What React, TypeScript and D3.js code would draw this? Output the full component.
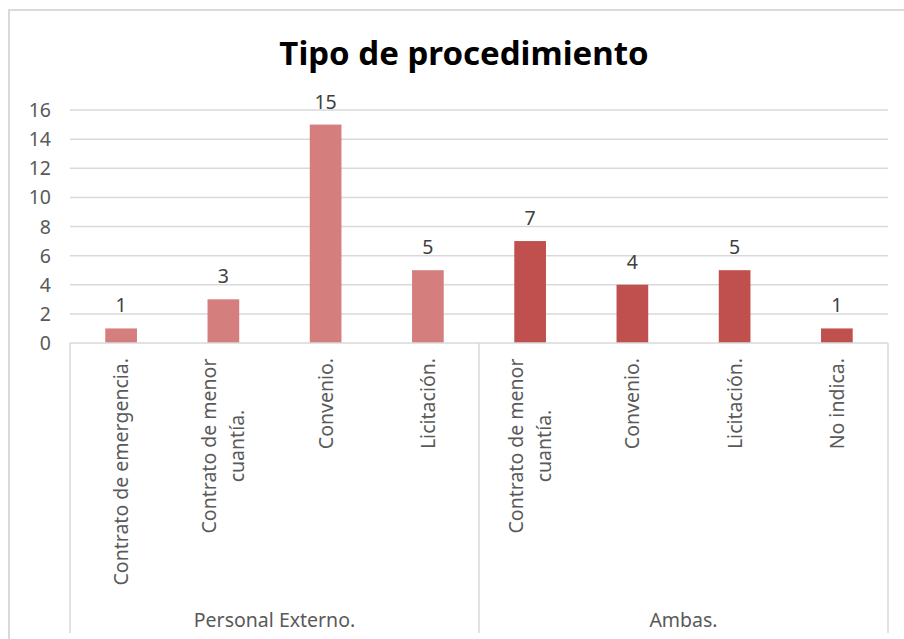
import React from "react";
import * as d3 from "d3";

const groups = ["Personal Externo.", "Ambas."];
const categories = [
  ["Contrato de emergencia."],
  ["Contrato de menor", "cuantía."],
  ["Convenio."],
  ["Licitación."],
  ["Contrato de menor", "cuantía."],
  ["Convenio."],
  ["Licitación."],
  ["No indica."],
];
const categoryGroup = [0, 0, 0, 0, 1, 1, 1, 1];
const values = [1, 3, 15, 5, 7, 4, 5, 1];
const groupColors = ["#d47f7e", "#c0504d"];
const yTicks = [0, 2, 4, 6, 8, 10, 12, 14, 16];

const W = 904;
const H = 639;
const left = 70;
const right = 888;
const top = 110;
const bottom = 343;
const FONT = "'Noto Sans', sans-serif";
const FS = 19.5;

export default function App() {
  const x = d3.scaleBand<number>().domain(d3.range(values.length)).range([left, right]).paddingInner(0.69).paddingOuter(0.345);
  const xc = d3.scaleBand<number>().domain(d3.range(values.length)).range([left, right]);
  const y = d3.scaleLinear().domain([0, 16]).range([bottom, top]);
  const groupBounds = groups.map((_, g) => {
    const idx = categoryGroup.map((v, i) => (v === g ? i : -1)).filter((i) => i >= 0);
    const x0 = xc(idx[0])!;
    const x1 = xc(idx[idx.length - 1])! + xc.bandwidth();
    return [x0, x1];
  });
  const sepXs = [groupBounds[0][0], ...groupBounds.map((b) => b[1])];

  return (
    <svg width={W} height={H} style={{ position: "absolute", left: 0, top: 0, background: "#fff" }}>
      <rect x={9} y={10} width={910} height={640} fill="#fff" stroke="#d9d9d9" strokeWidth={2} />
      <text x={464} y={65} textAnchor="middle" fontFamily={FONT} fontWeight="bold" fontSize={33} fill="#000">
        Tipo de procedimiento
      </text>
      {yTicks.map((t) => (
        <g key={t}>
          {t > 0 && <line x1={left} x2={right} y1={y(t)} y2={y(t)} stroke="#d9d9d9" strokeWidth={1.5} />}
          <text x={51} y={y(t) + 7} textAnchor="end" fontFamily={FONT} fontSize={FS} fill="#595959">
            {t}
          </text>
        </g>
      ))}
      {values.map((v, i) => (
        <g key={i}>
          <rect x={x(i)} y={y(v)} width={x.bandwidth()} height={y(0) - y(v)} fill={groupColors[categoryGroup[i]]} />
          <text x={x(i)! + x.bandwidth() / 2} y={y(v) - 16} textAnchor="middle" fontFamily={FONT} fontSize={FS} fill="#404040">
            {v}
          </text>
        </g>
      ))}
      <line x1={left} x2={right} y1={bottom} y2={bottom} stroke="#d9d9d9" strokeWidth={1.5} />
      {sepXs.map((sx, i) => (
        <line key={i} x1={sx} x2={sx} y1={bottom} y2={633} stroke="#d9d9d9" strokeWidth={1.5} />
      ))}
      {categories.map((lines, i) => {
        const cx = xc(i)! + xc.bandwidth() / 2;
        const lh = 28;
        const n = lines.length;
        return (
          <g key={i} transform={`translate(${cx},${446}) rotate(-90)`}>
            {lines.map((ln, j) => (
              <text
                key={j}
                x={n === 1 ? 88 : 0}
                y={(j - (n - 1) / 2) * lh + 7}
                textAnchor={n === 1 ? "end" : "middle"}
                fontFamily={FONT}
                fontSize={FS}
                fill="#595959"
              >
                {ln}
              </text>
            ))}
          </g>
        );
      })}
      {groups.map((g, gi) => (
        <text key={g} x={(groupBounds[gi][0] + groupBounds[gi][1]) / 2} y={627} textAnchor="middle" fontFamily={FONT} fontSize={FS} fill="#595959">
          {g}
        </text>
      ))}
    </svg>
  );
}
